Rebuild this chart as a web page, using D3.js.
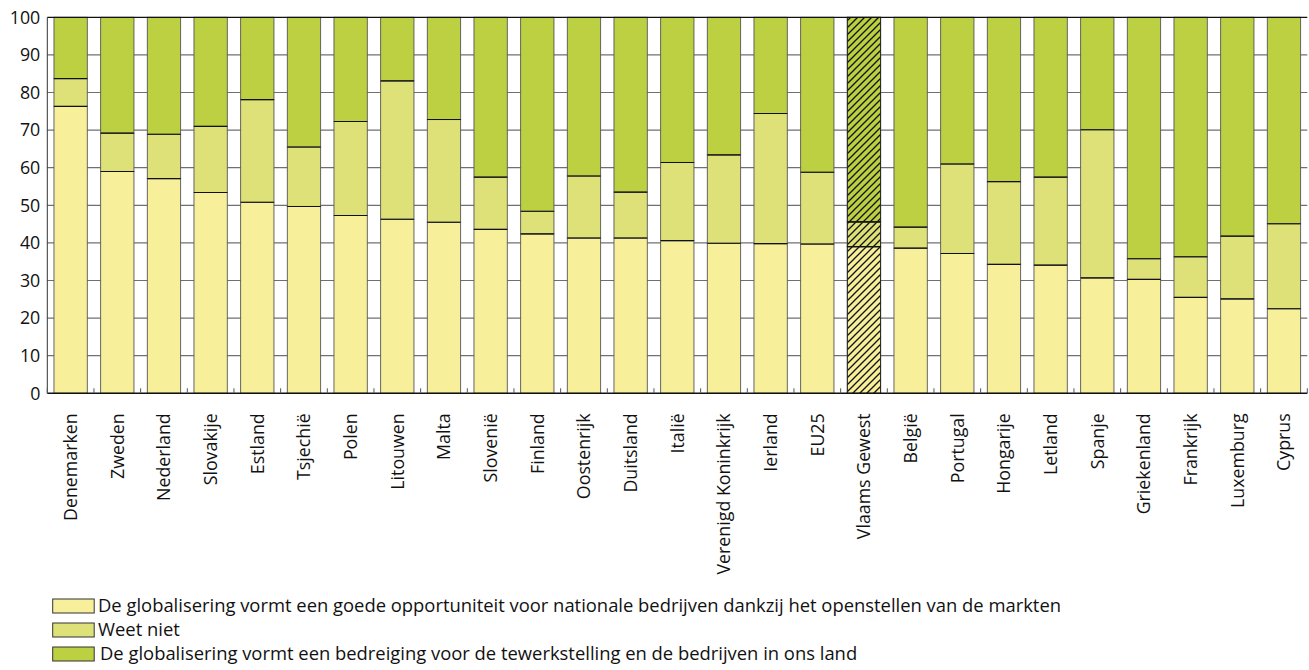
<!DOCTYPE html>
<html><head><meta charset="utf-8">
<script src="https://cdn.jsdelivr.net/npm/d3@7"></script>
<style>body{margin:0;background:#fff}svg{display:block}text{font-family:"Open Sans",sans-serif;fill:#111}</style>
</head><body>
<svg id="chart" width="1309" height="670"></svg>
<script>
const categories = ["Denemarken","Zweden","Nederland","Slovakije","Estland","Tsjechië","Polen","Litouwen","Malta","Slovenië","Finland","Oostenrijk","Duitsland","Italië","Verenigd Koninkrijk","Ierland","EU25","Vlaams Gewest","België","Portugal","Hongarije","Letland","Spanje","Griekenland","Frankrijk","Luxemburg","Cyprus"];
const opportuniteit = [76.3,59.0,57.1,53.4,50.8,49.7,47.3,46.3,45.5,43.6,42.4,41.3,41.3,40.6,39.9,39.8,39.7,39.0,38.6,37.2,34.3,34.1,30.7,30.3,25.5,25.1,22.5];
const weetNiet = [7.4,10.2,11.8,17.6,27.3,15.8,25.0,36.8,27.3,13.9,6.0,16.5,12.2,20.8,23.5,34.6,19.1,6.6,5.6,23.8,22.0,23.4,39.4,5.5,10.8,16.7,22.6];
const bedreiging = [16.3,30.8,31.1,29.0,21.9,34.5,27.7,16.9,27.2,42.5,51.6,42.2,46.5,38.6,36.6,25.6,41.2,54.4,55.8,39.0,43.7,42.5,29.9,64.2,63.7,58.2,54.9];
const yTicks = [0,10,20,30,40,50,60,70,80,90,100];
const seriesNames = ["De globalisering vormt een goede opportuniteit voor nationale bedrijven dankzij het openstellen van de markten","Weet niet","De globalisering vormt een bedreiging voor de tewerkstelling en de bedrijven in ons land"];
const seriesColors = ["#f7ef9a","#dee178","#bdd042"];
const hatched = "Vlaams Gewest";

(function(){
const svg = d3.select("#chart");
const L = 47.3, R = 1307.3, T = 17.3, B = 393.3;
const FS = 17.8, LFS = 18.4;
const x = d3.scaleBand().domain(categories).range([L, R]).paddingInner(0.286).paddingOuter(0.143);
const y = d3.scaleLinear().domain([0,100]).range([B, T]);

const defs = svg.append("defs");
const pat = defs.append("pattern").attr("id","hatch").attr("patternUnits","userSpaceOnUse")
  .attr("width",7).attr("height",7);
pat.append("path").attr("d","M-1,1 l2,-2 M0,7 l7,-7 M6,8 l2,-2").attr("stroke","#111").attr("stroke-width",1.3);

svg.append("g").selectAll("line").data(yTicks.filter(t=>t>0&&t<100)).join("line")
  .attr("x1",L).attr("x2",R).attr("y1",d=>y(d)).attr("y2",d=>y(d))
  .attr("stroke","#707070").attr("stroke-width",1.2);

const stackData = categories.map((c,i)=>({cat:c, s0:opportuniteit[i], s1:weetNiet[i], s2:bedreiging[i]}));
const stack = d3.stack().keys(["s0","s1","s2"])(stackData);
const top = d=>y(Math.min(d[1],100));

const g = svg.append("g");
stack.forEach((layer,k)=>{
  g.append("g").selectAll("rect").data(layer).join("rect")
    .attr("x",d=>x(d.data.cat)).attr("width",x.bandwidth())
    .attr("y",top).attr("height",d=>y(d[0])-top(d))
    .attr("fill",seriesColors[k]).attr("stroke","#555").attr("stroke-width",0.9);
  g.append("g").selectAll("rect").data(layer.filter(d=>d.data.cat===hatched)).join("rect")
    .attr("x",d=>x(d.data.cat)).attr("width",x.bandwidth())
    .attr("y",top).attr("height",d=>y(d[0])-top(d))
    .attr("fill","url(#hatch)").attr("stroke","#222").attr("stroke-width",0.9);
});
stack.slice(0,2).forEach(layer=>{
  g.append("g").selectAll("line").data(layer).join("line")
    .attr("x1",d=>x(d.data.cat)).attr("x2",d=>x(d.data.cat)+x.bandwidth())
    .attr("y1",d=>y(d[1])).attr("y2",d=>y(d[1])).attr("stroke","#111").attr("stroke-width",1.1);
});

svg.append("line").attr("x1",L).attr("x2",R).attr("y1",T).attr("y2",T).attr("stroke","#111").attr("stroke-width",1.3);
svg.append("line").attr("x1",L).attr("x2",L).attr("y1",T).attr("y2",B).attr("stroke","#333").attr("stroke-width",1);
svg.append("line").attr("x1",L).attr("x2",R).attr("y1",B).attr("y2",B).attr("stroke","#111").attr("stroke-width",1.5);

const bounds = categories.map(c=>x(c)-x.step()*x.paddingInner()/2).concat([R]);
svg.append("g").selectAll("line").data(bounds).join("line")
  .attr("x1",d=>d).attr("x2",d=>d).attr("y1",B).attr("y2",B-5)
  .attr("stroke","#555").attr("stroke-width",1);

const yAxis = d3.axisLeft(y).tickValues(yTicks).tickSize(0).tickPadding(6);
const ya = svg.append("g").attr("transform",`translate(${L},0)`).call(yAxis);
ya.select(".domain").remove();
ya.selectAll("text").attr("font-size",FS).attr("font-family","'Open Sans',sans-serif").attr("fill","#111").attr("x",-7);

const xAxis = d3.axisBottom(x).tickSize(0).tickPadding(0);
const xa = svg.append("g").attr("transform",`translate(0,${B})`).call(xAxis);
xa.select(".domain").remove();
xa.selectAll("text").attr("font-size",FS).attr("font-family","'Open Sans',sans-serif").attr("fill","#111")
  .attr("transform","rotate(-90)").attr("text-anchor","end").attr("x",-20).attr("y",0).attr("dy","0.35em");

const legY = [606, 630, 654];
const leg = svg.append("g").selectAll("g").data(seriesNames).join("g");
leg.append("rect").attr("x",52.7).attr("y",(d,i)=>legY[i]-7).attr("width",41.5).attr("height",14)
  .attr("fill",(d,i)=>seriesColors[i]).attr("stroke","#333").attr("stroke-width",1);
leg.append("text").attr("x",(d,i)=>i===2?100:98).attr("y",(d,i)=>legY[i]).attr("dy","0.35em")
  .attr("font-size",LFS).text(d=>d);
})();
</script>
</body></html>
